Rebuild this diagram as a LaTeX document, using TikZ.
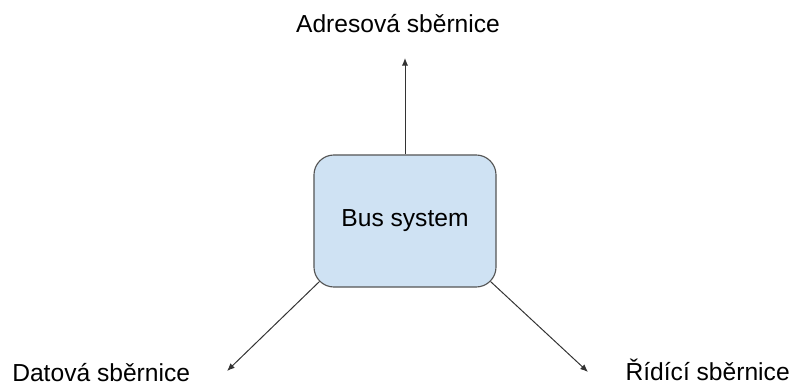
\documentclass[tikz,border=0pt]{standalone}
\usepackage{fontspec}
\setmainfont{Liberation Sans}
\usetikzlibrary{arrows.meta}
\definecolor{boxfill}{HTML}{CFE2F3}
\definecolor{boxline}{HTML}{555555}
\tikzset{
    busbox/.style={draw=boxline, fill=boxfill, line width=0.8pt, rounded corners=0.5cm,
        minimum width=4.55cm, minimum height=3.3cm},
    busarrow/.style={draw=black!80, line width=0.7pt, -{Latex[length=5.5pt,width=4.5pt]}},
    buslabel/.style={anchor=base, inner sep=0pt, font=\fontsize{17.5}{21}\selectfont}
}
\begin{document}
\begin{tikzpicture}[x=0.025cm,y=-0.025cm]
\useasboundingbox (0,0) rectangle (790,386);
\node[busbox, font=\fontsize{17.5}{21}\selectfont] (bus) at (405,221) {Bus system};
\coordinate (adrend) at (405,58);
\coordinate (datend) at (227,371);
\coordinate (ridend) at (588,372);
\draw[busarrow] (bus.north) -- (adrend);
\draw[busarrow] ([shift={(0.15cm,0.15cm)}]bus.south west) -- (datend);
\draw[busarrow] ([shift={(-0.15cm,0.15cm)}]bus.south east) -- (ridend);
\node[buslabel] (adr) at (398,33) {Adresová sběrnice};
\node[buslabel, anchor=base west] (dat) at (12,382) {Datová sběrnice};
\node[buslabel, anchor=base east] (rid) at (790,381) {Řídící sběrnice};
\end{tikzpicture}
\end{document}
